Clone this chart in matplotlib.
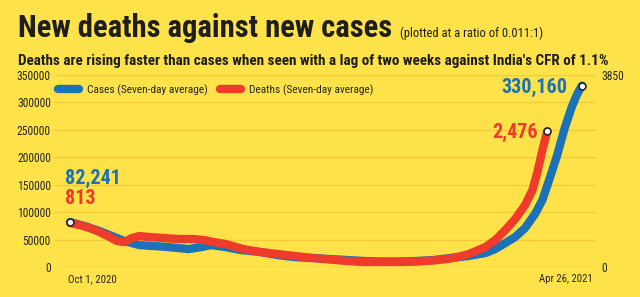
import matplotlib.pyplot as plt
from matplotlib import font_manager

# data
# x = days since Oct 1, 2020 (deaths are drawn with a two-week lag)
case_days = [0, 6, 12, 17, 22, 28, 34, 40, 48, 53, 57, 63, 69, 77, 84, 91,
             98, 105, 112, 119, 126, 133, 140, 147, 154, 161, 168, 172, 176,
             180, 184, 188, 191, 194, 197, 200, 203, 205, 207]
cases = [82241, 74900, 65800, 56700, 47700, 40400, 38600, 36700, 33100,
         36700, 40400, 36700, 31400, 27700, 22300, 18400, 16900, 15100,
         13200, 11400, 10500, 10500, 11400, 13200, 16900, 20500, 25900,
         33200, 44000, 55000, 71300, 96700, 122000, 162000, 203700, 252600,
         292500, 314000, 330160]

death_days = [0, 4, 8, 12, 16, 19, 22, 25, 28, 32, 38, 44, 50, 54, 58, 63,
              70, 77, 84, 91, 98, 105, 112, 119, 126, 133, 140, 147, 154,
              161, 168, 172, 176, 180, 184, 187, 189, 191, 193]
deaths = [884, 844, 784, 704, 605, 525, 505, 585, 624, 605, 585, 565, 565,
          545, 505, 465, 365, 305, 265, 225, 186, 156, 126, 106, 106, 106,
          116, 136, 176, 260, 405, 545, 744, 964, 1243, 1542, 1900, 2340,
          2720]

case_ticks = [0, 50000, 100000, 150000, 200000, 250000, 300000, 350000]
death_ticks = [0, 3850]
x_labels = ['Oct 1, 2020', 'Apr 26, 2021']

BG = '#fde24a'
GRID = '#f4cb3a'
BLUE = '#1b72b6'
RED = '#ee3b2c'
INK = '#262626'

# pick a narrow face if one is there
names = set(f.name for f in font_manager.fontManager.ttflist)
FONT = ['DejaVu Sans']
for cand in ['Roboto Condensed', 'Liberation Sans Narrow', 'Open Sans Condensed',
             'Noto Sans Condensed', 'Roboto']:
    if cand in names:
        FONT = [cand, 'DejaVu Sans']
        break
plt.rcParams['font.family'] = FONT

fig = plt.figure(figsize=(6.4, 2.97), dpi=100)
fig.patch.set_facecolor(BG)
renderer = fig.canvas.get_renderer()


def fit(txt, width_px):
    w = txt.get_window_extent(renderer).width
    txt.set_fontsize(txt.get_fontsize() * width_px / w)
    return txt


def size_for(s, width_px, weight='normal'):
    t = fig.text(0, 0, s, fontsize=10, fontweight=weight)
    w = t.get_window_extent(renderer).width
    t.remove()
    return 10 * width_px / w


ax = fig.add_axes([55 / 640, 0.1, 541 / 640, 0.6485])
ax.set_facecolor(BG)
ax.set_xlim(-6.07, 212.7)
ax.set_ylim(0, 350000)

for s in ax.spines.values():
    s.set_visible(False)

tick_size = size_for('350000', 34)
ax.set_yticks(case_ticks)
ax.set_yticklabels([str(v) for v in case_ticks])
ax.tick_params(axis='y', length=0, pad=3, labelsize=tick_size, labelcolor=INK)
ax.grid(axis='y', color=GRID, lw=1)
ax.set_axisbelow(True)
ax.set_xticks([])

ax2 = ax.twinx()
ax2.set_ylim(0, 3850)
ax2.set_yticks(death_ticks)
ax2.set_yticklabels([str(v) for v in death_ticks])
ax2.tick_params(axis='y', length=0, pad=4, labelsize=tick_size, labelcolor=INK)
for s in ax2.spines.values():
    s.set_visible(False)

# lines
ax.plot(case_days, cases, color=BLUE, lw=6, solid_capstyle='round',
        solid_joinstyle='round', label='Cases (Seven-day average)', zorder=3)
ax2.plot(death_days, deaths, color=RED, lw=6, solid_capstyle='round',
         solid_joinstyle='round', zorder=4)
ax.plot([], [], color=RED, lw=6, solid_capstyle='round',
        label='Deaths (Seven-day average)')

ax2.plot([case_days[0]], [cases[0] * 3850 / 350000], 'o', ms=5, mfc='white',
         mec=INK, mew=1.2, zorder=6)
ax2.plot([case_days[-1]], [cases[-1] * 3850 / 350000], 'o', ms=5, mfc='white',
         mec=INK, mew=1.2, zorder=6)
ax2.plot([death_days[-1]], [deaths[-1]], 'o', ms=5, mfc='white',
         mec=INK, mew=1.2, zorder=6)

leg_size = size_for('Cases (Seven-day average)', 120)
em = leg_size * 100 / 72
leg = ax.legend(loc='center left', bbox_to_anchor=(58 / 640, 1 - 90 / 297),
                bbox_transform=fig.transFigure, frameon=False,
                ncol=2, handlelength=21 / em, handletextpad=8 / em,
                columnspacing=12 / em, fontsize=leg_size,
                borderaxespad=0, borderpad=0)
for t in leg.get_texts():
    t.set_color(INK)

# value labels
ax.text(case_days[0] - 2, 162000, '82,241', color=BLUE, fontsize=14.5,
        fontweight='bold', ha='left', va='center')
ax.text(case_days[0] - 2, 125700, '813', color=RED, fontsize=14.5,
        fontweight='bold', ha='left', va='center')
ax.text(201, 327000, '330,160', color=BLUE, fontsize=14.5,
        fontweight='bold', ha='right', va='center')
ax2.text(189, 2700, '2,476', color=RED, fontsize=14.5,
         fontweight='bold', ha='right', va='center')

# x labels
t = fig.text(68 / 640, 1 - 279 / 297, x_labels[0], fontsize=9.5, color=INK,
             ha='left', va='center')
fit(t, 49)
t = fig.text(593 / 640, 1 - 279 / 297, x_labels[1], fontsize=9.5, color=INK,
             ha='right', va='center')
fit(t, 54)

# titles
t = fig.text(18 / 640, 1 - 37 / 297, 'New deaths against new cases',
             fontsize=26, fontweight='bold', color='#1e1e1e', ha='left',
             va='baseline')
fit(t, 375)
fig.text(400 / 640, 1 - 37 / 297, '(plotted at a ratio of 0.011:1)',
         fontsize=9, color='#1e1e1e', ha='left', va='baseline')
t = fig.text(18 / 640, 1 - 61 / 297,
             "Deaths are rising faster than cases when seen with a lag of two "
             "weeks against India's CFR of 1.1%",
             fontsize=12.5, fontweight='bold', color='#1e1e1e', ha='left',
             va='center')
fit(t, 590)

fig.savefig('out.png', dpi=100, facecolor=BG)
